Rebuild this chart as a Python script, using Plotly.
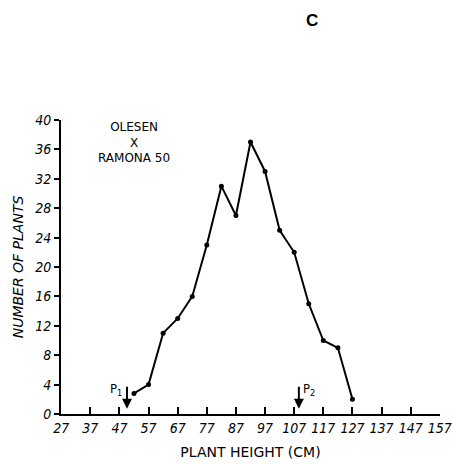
import plotly.graph_objects as go

heights = [52, 57, 62, 67, 72, 77, 82, 87, 92, 97, 102, 107, 112, 117, 122, 127]
counts = [2.8, 4, 11, 13, 16, 23, 31, 27, 37, 33, 25, 22, 15, 10, 9, 2]
x_ticks = [27, 37, 47, 57, 67, 77, 87, 97, 107, 117, 127, 137, 147, 157]
y_ticks = [0, 4, 8, 12, 16, 20, 24, 28, 32, 36, 40]
parent_x = [49.6, 108.6]
parent_labels = ["P<sub>1</sub>", "P<sub>2</sub>"]

font_family = "DejaVu Sans Condensed, DejaVu Sans"

fig = go.Figure()
fig.add_trace(go.Scatter(
    x=heights, y=counts, mode="lines+markers",
    line=dict(color="black", width=2),
    marker=dict(color="black", size=5),
    showlegend=False, hoverinfo="skip",
))

annotations = []
for px, lab, dx in zip(parent_x, parent_labels, [-1.0, 0.8]):
    annotations.append(dict(
        x=px, y=0.7, ax=px, ay=3.9, xref="x", yref="y", axref="x", ayref="y",
        showarrow=True, arrowhead=2, arrowsize=1, arrowwidth=2, arrowcolor="black", text="",
    ))
    annotations.append(dict(
        x=px + dx, y=3.3, xref="x", yref="y", text=lab, showarrow=False,
        xanchor="right" if dx < 0 else "left", yanchor="middle",
        font=dict(family=font_family, size=13, color="black"),
    ))

annotations.append(dict(
    x=52.0, y=36.9, xref="x", yref="y", text="OLESEN<br>X<br>RAMONA 50",
    showarrow=False, xanchor="center", yanchor="middle", align="center",
    font=dict(family="DejaVu Sans", size=12, color="black"),
))
annotations.append(dict(
    x=0.662, y=1.34, xref="paper", yref="paper", text="<b>C</b>",
    showarrow=False, xanchor="center", yanchor="middle",
    font=dict(family="Liberation Sans", size=17, color="black"),
))

fig.update_layout(
    width=453, height=464,
    margin=dict(l=61, r=13, t=120, b=50),
    paper_bgcolor="white", plot_bgcolor="white",
    annotations=annotations,
    xaxis=dict(
        range=[26.95, 157.05], tickvals=x_ticks, ticktext=[str(v) for v in x_ticks],
        automargin=False,
        showgrid=False, zeroline=False, showline=True, linecolor="black", linewidth=2,
        ticks="inside", ticklen=7, tickwidth=2, tickcolor="black",
        tickfont=dict(family=font_family, size=14, color="black", style="italic"),
        title=dict(text="PLANT HEIGHT (CM)", standoff=12,
                   font=dict(family="DejaVu Sans", size=14, color="black")),
    ),
    yaxis=dict(
        range=[0, 40], tickvals=y_ticks, ticktext=[str(v) for v in y_ticks],
        automargin=False,
        showgrid=False, zeroline=False, showline=True, linecolor="black", linewidth=2,
        ticks="outside", ticklen=5, tickwidth=2, tickcolor="black",
        tickfont=dict(family=font_family, size=14, color="black", style="italic"),
        title=dict(text="NUMBER OF PLANTS", standoff=8,
                   font=dict(family="DejaVu Sans", size=14, color="black", style="italic")),
    ),
)

fig.write_html("out.html")
